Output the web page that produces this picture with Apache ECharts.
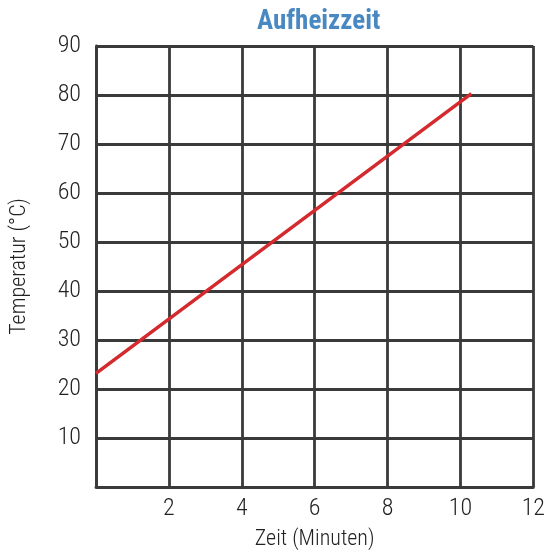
<!DOCTYPE html>
<html><head><meta charset="utf-8">
<script src="https://cdn.jsdelivr.net/npm/echarts@6/dist/echarts.min.js"></script>
<style>html,body{margin:0;padding:0;background:#fff}#c{width:548px;height:555px}</style>
</head><body><div id="c"></div>
<script>
const title = 'Aufheizzeit';
const xName = 'Zeit (Minuten)';
const yName = 'Temperatur (°C)';
const timeMin = [0, 10.3];
const tempC = [23.2, 80.3];

const font = '"Roboto Condensed", "Liberation Sans Narrow", "Roboto", sans-serif';
const chart = echarts.init(document.getElementById('c'));
chart.setOption({
  animation: false,
  title: { text: title, left: 252, top: 4,
    textStyle: { fontFamily: font, fontSize: 27, fontWeight: 'bold', color: '#4a88c2' } },
  grid: { left: 96, right: 9, top: 46, bottom: 65 },
  xAxis: { type: 'value', min: 0, max: 12, interval: 2,
    name: xName, nameLocation: 'middle', nameGap: 41,
    nameTextStyle: { fontFamily: font, fontSize: 22, fontWeight: 300, color: '#222' },
    axisLine: { show: true, lineStyle: { color: '#3a3a3a', width: 2.8 } },
    axisTick: { show: false },
    axisLabel: { margin: 10, fontFamily: font, fontSize: 24, fontWeight: 300, color: '#222',
      formatter: v => v === 0 ? '' : String(v) },
    splitLine: { show: true, lineStyle: { color: '#3a3a3a', width: 2.8 } } },
  yAxis: { type: 'value', min: 0, max: 90, interval: 10,
    name: yName, nameLocation: 'middle', nameGap: 66, nameRotate: 90,
    nameTextStyle: { fontFamily: font, fontSize: 22, fontWeight: 300, color: '#222' },
    axisLine: { show: true, lineStyle: { color: '#3a3a3a', width: 2.8 } },
    axisTick: { show: false },
    axisLabel: { margin: 15, fontFamily: font, fontSize: 24, fontWeight: 300, color: '#222',
      formatter: v => v === 0 ? '' : String(v) },
    splitLine: { show: true, lineStyle: { color: '#3a3a3a', width: 2.8 } } },
  series: [{ type: 'line', data: timeMin.map((t, i) => [t, tempC[i]]),
    showSymbol: false, symbol: 'none',
    lineStyle: { color: '#d42a2e', width: 3.5 } }]
});
</script></body></html>
